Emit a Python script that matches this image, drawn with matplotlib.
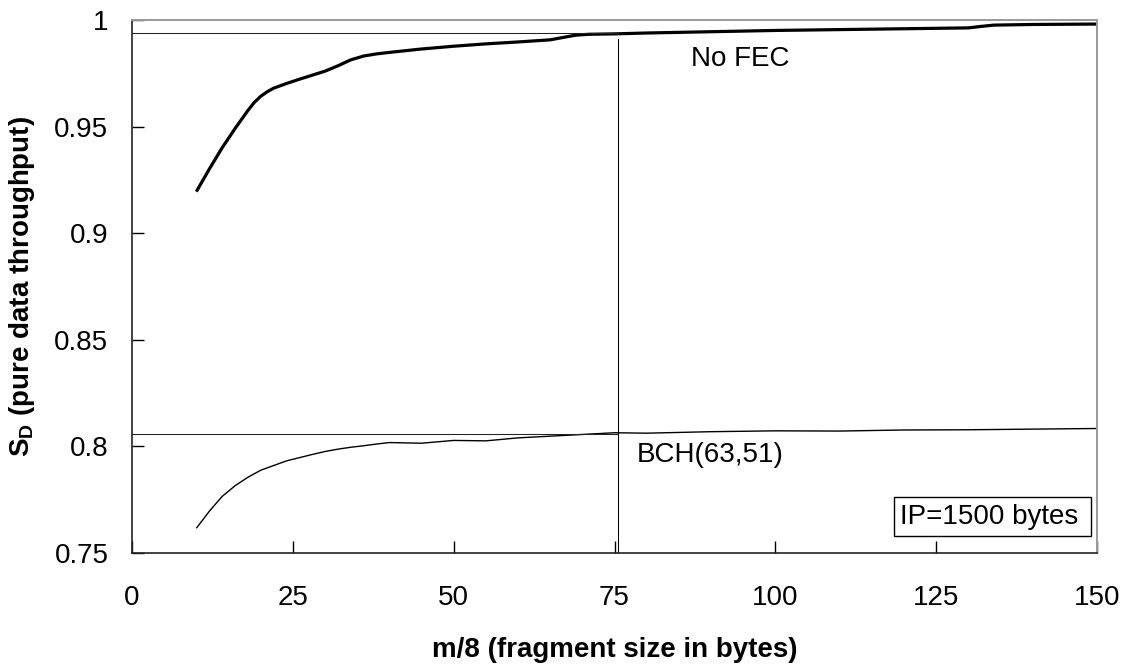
import matplotlib
matplotlib.use("Agg")
import matplotlib.pyplot as plt
from matplotlib.patches import Rectangle
from matplotlib.ticker import FixedLocator, FormatStrFormatter

plt.rcParams['font.family'] = ['Liberation Sans', 'DejaVu Sans']
plt.rcParams['mathtext.fontset'] = 'custom'
plt.rcParams['mathtext.rm'] = 'Liberation Sans'
plt.rcParams['mathtext.bf'] = 'Liberation Sans:bold'

# Fragment size (m/8, bytes) and pure data throughput S_D
frag_nofec = [10, 12, 14, 16, 18, 19, 20, 21, 22, 24, 26, 28, 30, 32, 34,
              36, 38, 40, 45, 50, 55, 60, 65, 67, 69, 71, 75, 80, 90, 100,
              110, 120, 130, 132, 134, 140, 150]
sd_nofec = [0.9195, 0.930, 0.940, 0.949, 0.9575, 0.9613, 0.9642, 0.9663,
            0.9680, 0.9702, 0.9722, 0.9741, 0.9760, 0.9785, 0.9813, 0.9831,
            0.9841, 0.9848, 0.9864, 0.9877, 0.9888, 0.9897, 0.9907, 0.9918,
            0.9929, 0.9933, 0.9935, 0.9939, 0.9945, 0.9951, 0.9955, 0.9959,
            0.9963, 0.9970, 0.9976, 0.9979, 0.9981]

frag_bch = [10, 12, 14, 16, 18, 20, 22, 24, 26, 28, 30, 32, 34, 36, 38, 40,
            45, 50, 55, 60, 65, 70, 75, 80, 90, 100, 110, 120, 130, 140, 150]
sd_bch = [0.7616, 0.7695, 0.7765, 0.7815, 0.7855, 0.7888, 0.7910, 0.7932,
          0.7947, 0.7962, 0.7976, 0.7987, 0.7996, 0.8003, 0.8011, 0.8018,
          0.8015, 0.8028, 0.8026, 0.8040, 0.8048, 0.8056, 0.8064, 0.8062,
          0.8069, 0.8073, 0.8072, 0.8077, 0.8078, 0.8081, 0.8084]

# Marker lines for the chosen fragment size
mark_frag = 75.6
mark_nofec = 0.9937
mark_bch = 0.8057
mark_top = 0.9911

y_ticks = [0.75, 0.80, 0.85, 0.90, 0.95, 1.00]
x_ticks = [0, 25, 50, 75, 100, 125, 150]

W, H = 1131, 664
fig = plt.figure(figsize=(W / 100, H / 100), dpi=100)
ax = fig.add_axes([132 / W, (H - 553) / H, 965 / W, 533 / H])

ax.plot(frag_nofec, sd_nofec, color='black', lw=2.3,
        solid_joinstyle='round', solid_capstyle='butt')
ax.plot(frag_bch, sd_bch, color='black', lw=1.0,
        solid_joinstyle='round', solid_capstyle='butt')

ax.plot([0, mark_frag], [mark_nofec, mark_nofec], color='#222222', lw=0.75)
ax.plot([0, mark_frag], [mark_bch, mark_bch], color='#222222', lw=0.75)
ax.plot([mark_frag, mark_frag], [0.75, mark_top], color='black', lw=0.75)

ax.set_xlim(0, 150)
ax.set_ylim(0.75, 1.0)
ax.xaxis.set_major_locator(FixedLocator(x_ticks))
ax.yaxis.set_major_locator(FixedLocator(y_ticks))
ax.yaxis.set_major_formatter(FormatStrFormatter('%g'))

ax.tick_params(direction='in', length=8.5, width=1.0, labelsize=20,
               colors='black')
ax.tick_params(axis='x', pad=23)
ax.tick_params(axis='y', pad=17)

for side in ('left', 'bottom'):
    ax.spines[side].set_color('#222222')
    ax.spines[side].set_linewidth(1.2)
for side in ('top', 'right'):
    ax.spines[side].set_color('#9a9a9a')
    ax.spines[side].set_linewidth(1.4)

ax.set_xlabel('m/8 (fragment size in bytes)', fontsize=20, fontweight='bold')
ax.set_ylabel(r'S$_{\mathbf{D}}$ (pure data throughput)', fontsize=20,
              fontweight='bold')
ax.xaxis.set_label_coords(0.5, -(637 - 553) / 533)
ax.yaxis.set_label_coords(-(132 - 37) / 965, 0.5)

ax.text(86.85, 0.9784, 'No FEC', fontsize=20, va='baseline', ha='left')
ax.text(78.45, 0.7928, 'BCH(63,51)', fontsize=20, va='baseline', ha='left')

ax.add_patch(Rectangle((118.45, 0.7581), 149.03 - 118.45, 0.7764 - 0.7581,
                       fill=False, edgecolor='black', lw=1.0, zorder=3))
ax.text(119.4, 0.7636, 'IP=1500 bytes', fontsize=20, va='baseline',
        ha='left', zorder=4)

fig.savefig('out.png', dpi=100)
